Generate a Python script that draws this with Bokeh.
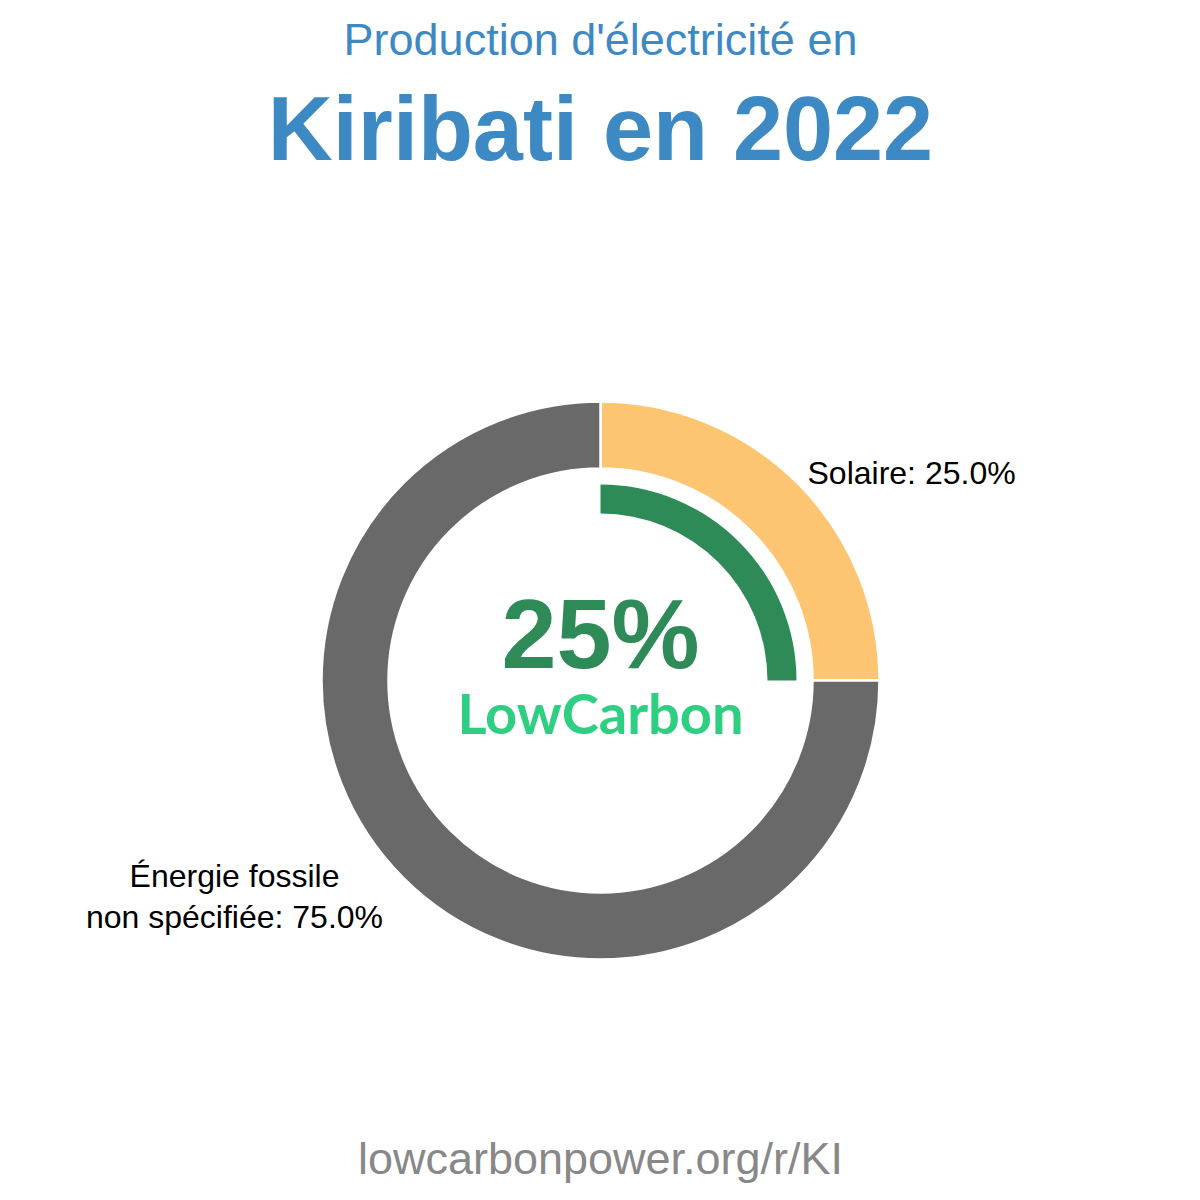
import math
from bokeh.plotting import figure
from bokeh.models import Range1d
from bokeh.core.properties import value
from bokeh.embed import file_html
from bokeh.resources import INLINE

# ---- data ----
categories = ["Solaire", "Énergie fossile\nnon spécifiée"]
shares = [25.0, 75.0]
colors = ["#FDC572", "#696969"]
lowcarbon_share = 25.0
title_line1 = "Production d'électricité en"
title_line2 = "Kiribati en 2022"
footer = "lowcarbonpower.org/r/KI"

W = H = 1200
p = figure(width=W, height=H, x_range=Range1d(0, W), y_range=Range1d(0, H),
           output_backend="svg", toolbar_location=None, min_border=0)
p.axis.visible = False
p.grid.visible = False
p.outline_line_color = None
p.background_fill_color = "white"
p.border_fill_color = "white"

def Y(py, size=0):
    # py = desired baseline in pixels from top; compensate renderer offset
    return H - (py - 0.375 * size)

cx, cy = 600, Y(680)
total = sum(shares)
start = math.pi / 2
for cat, s, c in zip(categories, shares, colors):
    end = start - s / total * 2 * math.pi
    p.annular_wedge(x=cx, y=cy, inner_radius=212, outer_radius=279,
                    start_angle=start, end_angle=end, direction="clock",
                    fill_color=c, line_color="white", line_width=2.5)
    start = end

# low carbon arc
p.annular_wedge(x=cx, y=cy, inner_radius=167, outer_radius=196,
                start_angle=math.pi / 2,
                end_angle=math.pi / 2 - lowcarbon_share / 100 * 2 * math.pi,
                direction="clock", fill_color="#2E8B57", line_color=None)

font = value("Liberation Sans")
ls = 32
p.text(x=[807], y=[Y(484, ls)], text=[f"{categories[0]}: {shares[0]:.1f}%"],
       text_font=font, text_font_size=f"{ls}px", text_color="black",
       text_align="left", text_baseline="alphabetic")
lines = categories[1].split("\n")
p.text(x=[234, 234], y=[Y(887, ls), Y(928, ls)],
       text=[lines[0], f"{lines[1]}: {shares[1]:.1f}%"],
       text_font=font, text_font_size=f"{ls}px", text_color="black",
       text_align="center", text_baseline="alphabetic")

p.text(x=[600], y=[Y(670, 99)], text=[f"{lowcarbon_share:.0f}%"], text_font=font,
       text_font_size="99px", text_font_style="bold", text_color="#2E8B57",
       text_align="center", text_baseline="alphabetic")
p.text(x=[600], y=[Y(733, 56)], text=["LowCarbon"], text_font=value("Lato"),
       text_font_size="56px", text_font_style="bold", text_color="#2ECF82",
       text_align="center", text_baseline="alphabetic")

p.text(x=[600], y=[Y(56, 45)], text=[title_line1], text_font=font,
       text_font_size="45px", text_color="#3D89C4",
       text_align="center", text_baseline="alphabetic")
p.text(x=[600], y=[Y(162, 90)], text=[title_line2], text_font=font,
       text_font_size="90px", text_font_style="bold", text_color="#3D89C4",
       text_align="center", text_baseline="alphabetic")
p.text(x=[600], y=[Y(1175, 45)], text=[footer], text_font=font,
       text_font_size="45px", text_color="#888888",
       text_align="center", text_baseline="alphabetic")

open("out.html", "w").write(file_html(p, INLINE))
